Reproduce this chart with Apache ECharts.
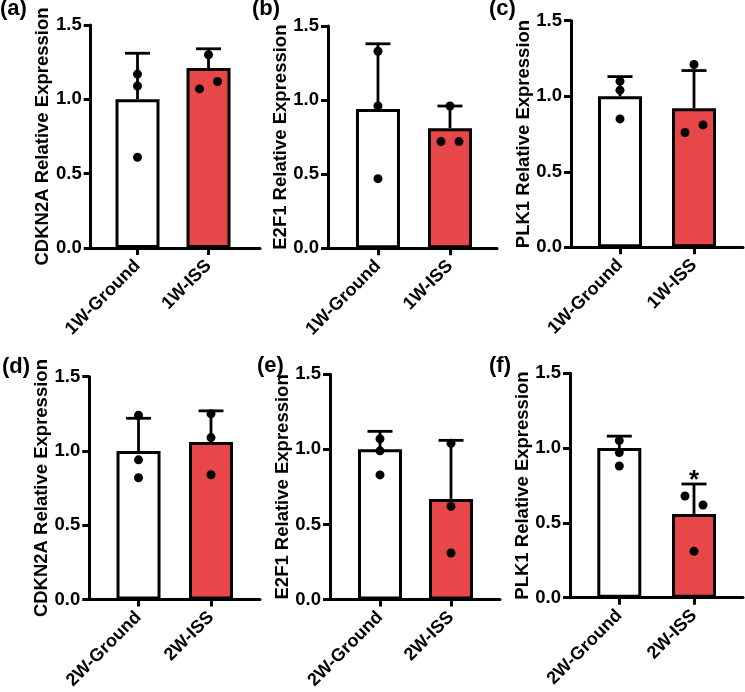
<!DOCTYPE html>
<html>
<head>
<meta charset="utf-8">
<script src="https://cdn.jsdelivr.net/npm/echarts@6/dist/echarts.min.js"></script>
<style>
  html, body { margin: 0; padding: 0; background: #fff; }
  #chart { width: 745px; height: 692px; }
</style>
</head>
<body>
<div id="chart"></div>
<script>
// ---------------- data ----------------
const panelLabels = ['(a)', '(b)', '(c)', '(d)', '(e)', '(f)'];
const genes = ['CDKN2A', 'E2F1', 'PLK1', 'CDKN2A', 'E2F1', 'PLK1'];
const categories1W = ['1W-Ground', '1W-ISS'];
const categories2W = ['2W-Ground', '2W-ISS'];
const yTickLabels = ['0.0', '0.5', '1.0', '1.5'];

// group means [Ground, ISS]
const meansA = [1.00, 1.21];
const meansB = [0.94, 0.81];
const meansC = [1.00, 0.92];
const meansD = [1.00, 1.06];
const meansE = [1.00, 0.67];
const meansF = [1.00, 0.56];

// SD (upper error bar) [Ground, ISS]
const sdA = [0.31, 0.13];
const sdB = [0.44, 0.15];
const sdC = [0.13, 0.25];
const sdD = [0.22, 0.21];
const sdE = [0.12, 0.39];
const sdF = [0.08, 0.20];

// individual replicates
const groundPtsA = [1.17, 1.09, 0.61];
const issPtsA    = [1.30, 1.12, 1.07];
const groundPtsB = [1.33, 0.96, 0.47];
const issPtsB    = [0.96, 0.72, 0.72];
const groundPtsC = [1.10, 1.04, 0.85];
const issPtsC    = [1.21, 0.81, 0.76];
const groundPtsD = [1.24, 0.94, 0.82];
const issPtsD    = [1.25, 1.09, 0.84];
const groundPtsE = [1.07, 0.99, 0.83];
const issPtsE    = [1.04, 0.62, 0.31];
const groundPtsF = [1.05, 0.97, 0.88];
const issPtsF    = [0.68, 0.62, 0.31];

// significance marks [Ground, ISS]
const sigA = ['', ''];
const sigB = ['', ''];
const sigC = ['', ''];
const sigD = ['', ''];
const sigE = ['', ''];
const sigF = ['', '*'];

// ---------------- layout / style ----------------
const layout = [
  { left: 90.7, top: 25,    width: 169.3, height: 223,   xMin: 0.341, xMax: 2.725 },
  { left: 328,  top: 26,    width: 169,   height: 222.3, xMin: 0.306, xMax: 2.653 },
  { left: 571,  top: 20.7,  width: 172,   height: 226.6, xMin: 0.338, xMax: 2.662 },
  { left: 89.3, top: 376.7, width: 170.7, height: 225,   xMin: 0.321, xMax: 2.676 },
  { left: 330,  top: 374.3, width: 170,   height: 225.7, xMin: 0.296, xMax: 2.69 },
  { left: 570,  top: 373.3, width: 173,   height: 224.4, xMin: 0.34,  xMax: 2.656 }
];
const labelPos = [
  { left: 0, top: -2 }, { left: 252, top: -2 }, { left: 489, top: -2 },
  { left: 2, top: 356 }, { left: 257, top: 355 }, { left: 489, top: 355 }
];
// horizontal jitter (px) of replicate dots
const jitterGround = [[0,0,0],[0,0,0],[0,0,0],[0,0,0],[0,0,0],[0,0,0]];
const jitterIss = [[0,9,-9],[0,-9,9],[0,9,-9],[0,0,0],[0,0,0],[-9,9,0]];

const FONT = 'Liberation Sans, Arial, Helvetica, sans-serif';
const RED = '#E8474A';
const LW = 3;

const panels = [
  { means: meansA, sd: sdA, g: groundPtsA, i: issPtsA, sig: sigA, cats: categories1W },
  { means: meansB, sd: sdB, g: groundPtsB, i: issPtsB, sig: sigB, cats: categories1W },
  { means: meansC, sd: sdC, g: groundPtsC, i: issPtsC, sig: sigC, cats: categories1W },
  { means: meansD, sd: sdD, g: groundPtsD, i: issPtsD, sig: sigD, cats: categories2W },
  { means: meansE, sd: sdE, g: groundPtsE, i: issPtsE, sig: sigE, cats: categories2W },
  { means: meansF, sd: sdF, g: groundPtsF, i: issPtsF, sig: sigF, cats: categories2W }
];

const grids = [], xAxes = [], yAxes = [], series = [], titles = [];

panels.forEach((p, k) => {
  const L = layout[k];
  grids.push({ left: L.left, top: L.top, width: L.width, height: L.height, containLabel: false });
  xAxes.push({
    type: 'value', gridIndex: k, min: L.xMin, max: L.xMax,
    splitLine: { show: false },
    axisLine: { show: true, onZero: false, lineStyle: { color: '#000', width: LW } },
    axisTick: { show: true, customValues: [1, 2], length: 7, lineStyle: { color: '#000', width: LW } },
    axisLabel: {
      customValues: [1, 2], rotate: 45, margin: 15, color: '#000',
      fontFamily: FONT, fontWeight: 'bold', fontSize: 18,
      formatter: v => p.cats[Math.round(v) - 1] || ''
    }
  });
  yAxes.push({
    type: 'value', gridIndex: k, min: 0, max: 1.5, interval: 0.5,
    name: genes[k] + ' Relative Expression', nameLocation: 'middle', nameGap: 38,
    nameMoveOverlap: false,
    nameTextStyle: { fontFamily: FONT, fontWeight: 'bold', fontSize: 18.5, color: '#000' },
    splitLine: { show: false },
    axisLine: { show: true, lineStyle: { color: '#000', width: LW } },
    axisTick: { show: true, length: 7, lineStyle: { color: '#000', width: LW } },
    axisLabel: {
      margin: 9, color: '#000', fontFamily: FONT, fontWeight: 'bold', fontSize: 18.5,
      formatter: v => yTickLabels[Math.round(v / 0.5)]
    }
  });
  titles.push({
    text: panelLabels[k], left: labelPos[k].left, top: labelPos[k].top, padding: 0,
    textStyle: { fontFamily: FONT, fontWeight: 'bold', fontSize: 22, color: '#000' }
  });
  series.push({
    type: 'bar', xAxisIndex: k, yAxisIndex: k, barWidth: 44, z: 2,
    data: [
      { value: [1, p.means[0]], itemStyle: { color: '#fff' } },
      { value: [2, p.means[1]], itemStyle: { color: RED } }
    ],
    itemStyle: { borderColor: '#000', borderWidth: 3 },
    emphasis: { disabled: true }
  });
  series.push({
    type: 'custom', xAxisIndex: k, yAxisIndex: k, z: 3, clip: false,
    data: [[1, p.means[0], p.sd[0], 0], [2, p.means[1], p.sd[1], 1]],
    renderItem: (params, api) => {
      const x = api.value(0), m = api.value(1), s = api.value(2), idx = api.value(3);
      const a = api.coord([x, m]), b = api.coord([x, m + s]);
      const st = { stroke: '#000', lineWidth: 2.8 };
      const ch = [
        { type: 'line', shape: { x1: a[0], y1: a[1], x2: b[0], y2: b[1] }, style: st },
        { type: 'line', shape: { x1: b[0] - 12.5, y1: b[1], x2: b[0] + 12.5, y2: b[1] }, style: st }
      ];
      const sg = p.sig[idx];
      if (sg) {
        ch.push({ type: 'text', style: { text: sg, x: b[0], y: b[1] - 3, align: 'center', verticalAlign: 'middle',
          font: 'bold 26px ' + FONT, fill: '#000' } });
      }
      return { type: 'group', children: ch };
    }
  });
  const pts = [];
  p.g.forEach((v, j) => pts.push({ value: [1, v], symbolOffset: [jitterGround[k][j], 0] }));
  p.i.forEach((v, j) => pts.push({ value: [2, v], symbolOffset: [jitterIss[k][j], 0] }));
  series.push({
    type: 'scatter', xAxisIndex: k, yAxisIndex: k, z: 4, symbol: 'circle', symbolSize: 9,
    itemStyle: { color: '#000', opacity: 1 }, data: pts, emphasis: { disabled: true }
  });
});

const chart = echarts.init(document.getElementById('chart'), null, { renderer: 'canvas' });
chart.setOption({
  animation: false,
  backgroundColor: '#fff',
  title: titles,
  grid: grids,
  xAxis: xAxes,
  yAxis: yAxes,
  series: series
});
</script>
</body>
</html>
